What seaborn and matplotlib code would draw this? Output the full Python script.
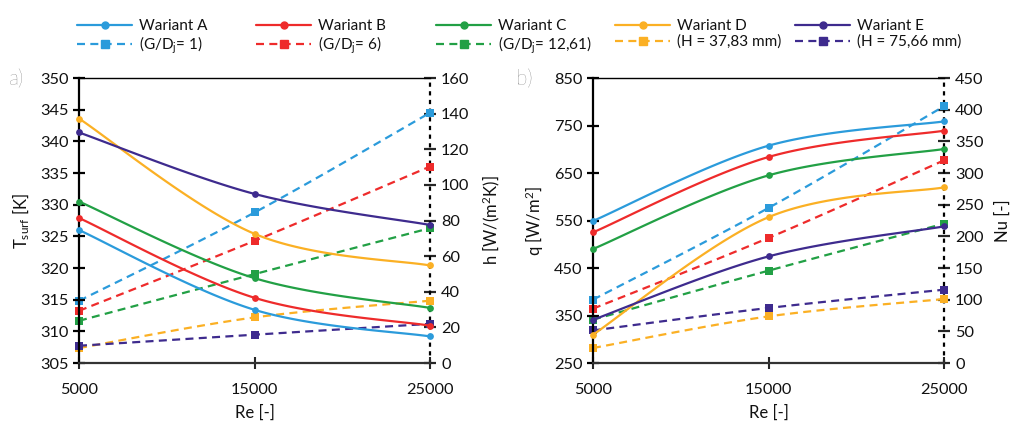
import numpy as np
import pandas as pd
import matplotlib
matplotlib.use("Agg")
import matplotlib.pyplot as plt
from matplotlib.lines import Line2D
import seaborn as sns

# Reynolds numbers on the x axis
re_values = [5000, 15000, 25000]

variants = ["Wariant A", "Wariant B", "Wariant C", "Wariant D", "Wariant E"]
variant_notes = ["(G/D$_\\mathregular{j}$= 1)", "(G/D$_\\mathregular{j}$= 6)",
                 "(G/D$_\\mathregular{j}$= 12,61)", "(H = 37,83 mm)", "(H = 75,66 mm)"]
colors = ["#2B9BDB", "#EE2B2B", "#22A045", "#FBB024", "#3E2B8E"]

# a) surface temperature [K] (left axis) and heat transfer coefficient (right axis)
t_surf_a = [326.0, 313.4, 309.2]
t_surf_b = [327.9, 315.3, 310.9]
t_surf_c = [330.5, 318.4, 313.7]
t_surf_d = [343.6, 325.4, 320.4]
t_surf_e = [341.4, 331.7, 326.8]

h_a = [34.9, 84.5, 140.5]
h_b = [29.3, 68.6, 110.3]
h_c = [23.7, 49.9, 75.7]
h_d = [8.4, 25.6, 35.0]
h_e = [9.7, 15.9, 22.0]

# b) heat flux [W/m2] (left axis) and Nusselt number (right axis)
q_a = [549.0, 707.5, 758.6]
q_b = [525.0, 683.7, 739.0]
q_c = [490.0, 645.0, 700.5]
q_d = [309.6, 557.0, 619.7]
q_e = [341.0, 474.4, 537.6]

nu_a = [100.0, 244.9, 405.4]
nu_b = [85.8, 197.5, 320.0]
nu_c = [68.4, 145.8, 220.0]
nu_d = [23.7, 73.6, 101.0]
nu_e = [51.5, 86.9, 115.8]

t_surf = [t_surf_a, t_surf_b, t_surf_c, t_surf_d, t_surf_e]
h_coef = [h_a, h_b, h_c, h_d, h_e]
q_flux = [q_a, q_b, q_c, q_d, q_e]
nu_num = [nu_a, nu_b, nu_c, nu_d, nu_e]

sns.set_theme(style="white")
plt.rcParams["font.family"] = ["Lato", "DejaVu Sans"]
plt.rcParams["mathtext.default"] = "regular"

TICK_FS = 11.8
LABEL_FS = 12
DASH = (3.6, 2.4)


def smooth(xs, ys, n=60):
    """Smoothed line through the points (cubic Bezier, Catmull-Rom tangents)."""
    p = np.column_stack([xs, ys]).astype(float)
    ext = np.vstack([p[0], p, p[-1]])
    out = []
    t = np.linspace(0, 1, n)[:, None]
    for i in range(len(p) - 1):
        p0, p1 = ext[i + 1], ext[i + 2]
        c1 = p0 + (ext[i + 2] - ext[i]) / 6.0
        c2 = p1 - (ext[i + 3] - ext[i + 1]) / 6.0
        seg = ((1 - t) ** 3) * p0 + 3 * ((1 - t) ** 2) * t * c1 + 3 * (1 - t) * t ** 2 * c2 + t ** 3 * p1
        out.append(seg if i == 0 else seg[1:])
    out = np.vstack(out)
    return out[:, 0], out[:, 1]


def draw_series(ax, ys, color, dashed):
    sx, sy = smooth(re_values, ys)
    curve = pd.DataFrame({"Re": sx, "v": sy})
    sns.lineplot(data=curve, x="Re", y="v", ax=ax, color=color, lw=1.6,
                 sort=False, estimator=None, legend=False)
    line = ax.get_lines()[-1]
    if dashed:
        line.set_dashes(DASH)
    pts = pd.DataFrame({"Re": re_values, "v": ys})
    sns.scatterplot(data=pts, x="Re", y="v", ax=ax, color=color,
                    marker="s" if dashed else "o", s=28 if dashed else 24,
                    edgecolor=color, linewidth=0, clip_on=False, zorder=5, legend=False)


def style_axes(ax, axr, left_lim, left_ticks, right_lim, right_ticks, left_label, right_label):
    ax.set_xlim(5000, 25000)
    ax.set_xticks(re_values)
    ax.set_xticklabels([str(v) for v in re_values])
    ax.set_ylim(*left_lim)
    ax.set_yticks(left_ticks)
    axr.set_ylim(*right_lim)
    axr.set_yticks(right_ticks)
    for a in (ax, axr):
        a.set_xlabel("")
        a.set_ylabel("")
        for s in a.spines.values():
            s.set_visible(False)
    ax.spines["left"].set_visible(True)
    ax.spines["left"].set_linewidth(1.6)
    ax.spines["left"].set_color("black")
    ax.spines["bottom"].set_visible(True)
    ax.spines["bottom"].set_linewidth(1.6)
    ax.spines["bottom"].set_color("#333333")
    ax.spines["top"].set_visible(True)
    ax.spines["top"].set_linewidth(1.0)
    ax.spines["top"].set_color("black")
    axr.spines["right"].set_visible(True)
    axr.spines["right"].set_linestyle((0, (0.9, 3.0)))
    axr.spines["right"].set_linewidth(1.6)
    axr.spines["right"].set_color("black")
    ax.tick_params(axis="y", which="both", direction="inout", length=9, width=1.6,
                   colors="black", labelsize=TICK_FS, pad=3, left=True, labelcolor="#111111")
    ax.tick_params(axis="x", direction="inout", length=9, width=1.5, bottom=True,
                   labelsize=TICK_FS, pad=10, labelcolor="#111111")
    axr.tick_params(axis="y", direction="inout", length=8, width=1.6, right=True,
                    labelsize=TICK_FS, pad=4, labelcolor="#111111")
    ax.set_xlabel("Re [-]", fontsize=LABEL_FS, labelpad=5, color="#111111")
    ax.set_ylabel(left_label, fontsize=LABEL_FS, labelpad=6, color="#111111")
    axr.set_ylabel(right_label, fontsize=LABEL_FS, labelpad=8, color="#111111")
    ax.patch.set_visible(False)


fig = plt.figure(figsize=(10.14, 4.23), dpi=100)
ax_a = fig.add_axes([0.0779, 0.1418, 0.3462, 0.6738])
ax_b = fig.add_axes([0.5848, 0.1418, 0.3462, 0.6738])
ax_ar = ax_a.twinx()
ax_br = ax_b.twinx()

for i, c in enumerate(colors):
    draw_series(ax_a, t_surf[i], c, dashed=False)
    draw_series(ax_ar, h_coef[i], c, dashed=True)
    draw_series(ax_b, q_flux[i], c, dashed=False)
    draw_series(ax_br, nu_num[i], c, dashed=True)

style_axes(ax_a, ax_ar, (305, 350), np.arange(305, 351, 5), (0, 160), np.arange(0, 161, 20),
           "T$_{surf}$ [K]", "h [W/(m$^2$K)]")
style_axes(ax_b, ax_br, (250, 850), np.arange(250, 851, 100), (0, 450), np.arange(0, 451, 50),
           "q [W/m$^2$]", "Nu [-]")
ax_a.set_zorder(ax_ar.get_zorder() + 1)
ax_b.set_zorder(ax_br.get_zorder() + 1)

fig.text(0.009, 0.812, "a)", fontsize=15, color="#4a4a4a", fontweight="light", va="center")
fig.text(0.509, 0.812, "b)", fontsize=15, color="#4a4a4a", fontweight="light", va="center")

# legend: one block per variant, solid line on top, dashed line below
legend_x = [77, 256, 436, 615, 795]
for i, c in enumerate(colors):
    handles = [
        Line2D([], [], color=c, lw=1.6, marker="o", markersize=5),
        Line2D([], [], color=c, lw=1.6, marker="s", markersize=5.5, dashes=DASH),
    ]
    leg = fig.legend(handles, [variants[i], variant_notes[i]], loc="upper left",
                     bbox_to_anchor=(legend_x[i] / 1014, 1 - 19 / 423), frameon=False,
                     fontsize=11, handlelength=3.6, handletextpad=0.45, labelspacing=0.12,
                     borderpad=0, borderaxespad=0)
    for t in leg.get_texts():
        t.set_color("#111111")

fig.savefig("out.png", dpi=100, facecolor="white")
